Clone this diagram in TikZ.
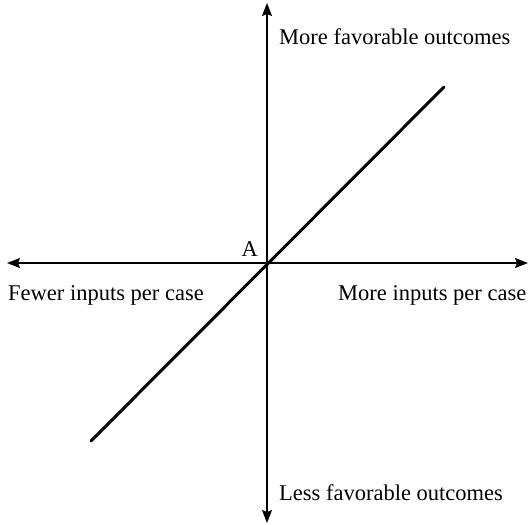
\documentclass[tikz,border=0pt]{standalone}
\usepackage{fontspec}
\setmainfont{Liberation Serif}
\usetikzlibrary{arrows.meta, positioning}

\begin{document}
\begin{tikzpicture}[x=1pt, y=-1pt, font=\fontsize{22.5}{26}\selectfont]
  \tikzset{
    axis/.style={line width=1.5pt, {Stealth[length=13pt, width=10pt, inset=2pt]}-{Stealth[length=13pt, width=10pt, inset=2pt]}},
    trend/.style={line width=3pt, line cap=round},
    lbl/.style={inner sep=0pt, anchor=base west}
  }
  \useasboundingbox (0,0) rectangle (529,524);
  % axis end points
  \coordinate (left)   at (7,263);
  \coordinate (right)  at (528,263);
  \coordinate (top)    at (267,3);
  \coordinate (bottom) at (267,523);
  \coordinate (origin) at (267,263);
  \coordinate (lo) at (91,441);
  \coordinate (hi) at (444,87);
  \draw[axis] (left) -- (right);
  \draw[axis] (bottom) -- (top);
  \draw[trend] (lo) -- (hi);
  % labels
  \node[lbl] (more)  at (279,45)  {More favorable outcomes};
  \node[lbl] (less)  at (279,500) {Less favorable outcomes};
  \node[lbl] (fewer) at (8,300)   {Fewer inputs per case};
  \node[lbl] (morein) at (338,300) {More inputs per case};
  \node[inner sep=0pt, anchor=base east] (A) at (258,256) {A};
\end{tikzpicture}
\end{document}
